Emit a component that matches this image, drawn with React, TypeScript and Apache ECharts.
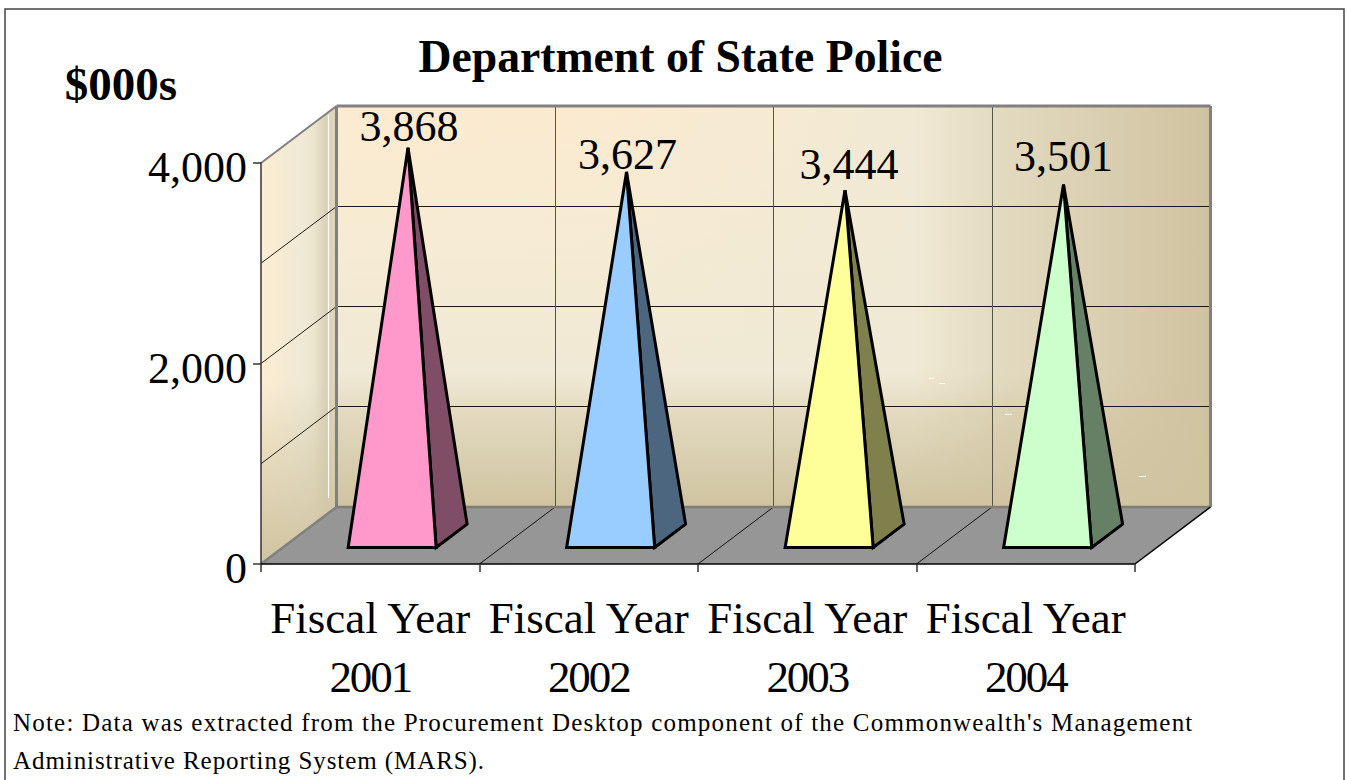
import React, { useEffect, useRef } from "react";
import * as echarts from "echarts";

const chartTitle = "Department of State Police";
const unitLabel = "$000s";
const noteLines = [
  "Note: Data was extracted from the Procurement Desktop component of the Commonwealth's Management",
  "Administrative Reporting System (MARS).",
];
const fiscalYears = ["Fiscal Year\n2001", "Fiscal Year\n2002", "Fiscal Year\n2003", "Fiscal Year\n2004"];
const spending = [3868, 3627, 3444, 3501];
const wallGridValues = [1000, 2000, 3000];
const frontColors = ["#FF99CC", "#99CCFF", "#FFFF99", "#CCFFCC"];
const sideColors = ["#804D66", "#4D6680", "#80804D", "#668066"];
// Placement of each value label's centre relative to its pyramid's apex, in pixels.
const labelOffsetX = [1, 1, 4, 0];
const labelOffsetY = [-21, -17, -26, -28];

const SERIF = '"Liberation Serif", "Times New Roman", serif';
const DEPTH_X = 75.5;
const DEPTH_Y = -57;
const HALF_BASE = 44;
const BASE_NEAR = 0.29;
const BASE_FAR = 0.7;
const TAN = "207,195,160";

const hGradient = (stops: [number, string][]) =>
  new echarts.graphic.LinearGradient(0, 0, 1, 0, stops.map(([offset, color]) => ({ offset, color })));
const vGradient = (stops: [number, string][]) =>
  new echarts.graphic.LinearGradient(0, 0, 0, 1, stops.map(([offset, color]) => ({ offset, color })));

const poly = (points: number[][], style: any) => ({ type: "polygon", shape: { points }, style, silent: true });
const seg = (x1: number, y1: number, x2: number, y2: number, stroke: string, lineWidth = 1) => ({
  type: "line",
  shape: { x1, y1, x2, y2 },
  style: { stroke, lineWidth, fill: null },
  silent: true,
});
const snap = (v: number) => Math.floor(v) + 0.5;

// Back wall, side wall, floor and their grid lines, all derived from the axes.
function renderFrame(params: any, api: any) {
  const cs = params.coordSys;
  const left = cs.x;
  const right = cs.x + cs.width;
  const band = api.size([1, 0])[0];
  const y0 = api.coord([0, 0])[1];
  const yMax = api.coord([0, 4000])[1];
  const dx = DEPTH_X;
  const dy = DEPTH_Y;

  const backWall = [[left + dx, yMax + dy], [right + dx, yMax + dy], [right + dx, y0 + dy], [left + dx, y0 + dy]];
  const sideWall = [[left, yMax], [left + dx, yMax + dy], [left + dx, y0 + dy], [left, y0]];
  const floor = [[left, y0], [right, y0], [right + dx, y0 + dy], [left + dx, y0 + dy]];
  const children: any[] = [];

  children.push(
    poly(backWall, {
      fill: vGradient([
        [0, "#FCEBD0"],
        [0.35, "#F6EBD3"],
        [0.66, "#F0E9D5"],
        [1, "#F0E9D5"],
      ]),
    }),
    poly(backWall, {
      fill: hGradient([
        [0, "rgba(240,233,213,0)"],
        [0.3, "rgba(240,233,213,0.1)"],
        [0.5, "rgba(240,233,213,0.5)"],
        [0.66, "rgba(240,233,213,0.95)"],
        [0.75, "rgba(227,219,193,1)"],
        [0.9, "rgba(216,204,174,1)"],
        [1, "rgba(207,194,159,1)"],
      ]),
    }),
    poly(backWall, {
      fill: vGradient([
        [0, `rgba(${TAN},0)`],
        [0.66, `rgba(${TAN},0)`],
        [0.7, `rgba(${TAN},0.12)`],
        [0.77, `rgba(${TAN},0.42)`],
        [1, `rgba(${TAN},1)`],
      ]),
    }),
    poly(sideWall, {
      fill: hGradient([
        [0, "#FBEDD2"],
        [0.25, "#F6EBD3"],
        [0.55, "#EFE9D6"],
        [0.7, "#EBE5D0"],
        [0.86, "#DAD1B6"],
        [0.89, "#DED5BB"],
        [1, "#DED4B8"],
      ]),
    }),
    poly(sideWall, {
      fill: vGradient([
        [0, `rgba(${TAN},0)`],
        [0.6, `rgba(${TAN},0)`],
        [0.75, `rgba(${TAN},0.4)`],
        [1, `rgba(${TAN},1)`],
      ]),
    }),
    poly(floor, { fill: "#969696" })
  );

  // Highlight running down the side wall.
  children.push(seg(snap(left + dx - 8), yMax + dy + 9, snap(left + dx - 8), y0 + dy - 9, "#FFFFFF", 1));

  wallGridValues.forEach((v) => {
    const y = api.coord([0, v])[1];
    const yBack = snap(y + dy);
    children.push(seg(left, y, left + dx, yBack, "#1E1E14", 1));
    children.push(seg(left + dx, yBack, right + dx, yBack, "#1A1A12", 1));
  });

  for (let i = 1; i < fiscalYears.length; i++) {
    const x = left + band * i;
    children.push(seg(snap(x + dx), yMax + dy, snap(x + dx), y0 + dy, "#55534A", 1));
    children.push(seg(x, y0, x + dx, y0 + dy, "#111111", 1));
  }

  children.push(
    seg(left + dx, yMax + dy, left + dx, y0 + dy, "#808080", 3),
    seg(left + dx, y0 + dy, right + dx, y0 + dy, "#7F7D75", 2.5),
    seg(left, yMax, left + dx, yMax + dy, "#808080", 2),
    seg(left + dx, yMax + dy, right + dx, yMax + dy, "#808080", 3),
    seg(right + dx, yMax + dy, right + dx, y0 + dy, "#808080", 3),
    seg(left, y0, left + dx, y0 + dy, "#808080", 2.5),
    seg(right, y0, right + dx, y0 + dy, "#000000", 1.5)
  );

  return { type: "group", children };
}

// One four-sided pyramid with its value written above the apex.
function renderPyramid(params: any, api: any) {
  const i = api.value(0);
  const value = api.value(1);
  const [cx, y0] = api.coord([i, 0]);
  const top = api.coord([i, value]);
  const apex = [top[0] + DEPTH_X / 2, top[1] + DEPTH_Y / 2];
  const nearL = [cx - HALF_BASE + DEPTH_X * BASE_NEAR, y0 + DEPTH_Y * BASE_NEAR];
  const nearR = [cx + HALF_BASE + DEPTH_X * BASE_NEAR, y0 + DEPTH_Y * BASE_NEAR];
  const farR = [cx + HALF_BASE + DEPTH_X * BASE_FAR, y0 + DEPTH_Y * BASE_FAR];
  const edge = { stroke: "#000000", lineWidth: 3, lineJoin: "miter" };
  return {
    type: "group",
    children: [
      poly([nearR, farR, apex], { ...edge, fill: sideColors[i] }),
      poly([nearL, nearR, apex], { ...edge, fill: frontColors[i] }),
      {
        type: "text",
        silent: true,
        style: {
          text: spending[i].toLocaleString("en-US"),
          x: apex[0] + labelOffsetX[i],
          y: apex[1] + labelOffsetY[i],
          fill: "#000000",
          fontFamily: SERIF,
          fontSize: 44,
          align: "center",
          verticalAlign: "middle",
        },
      },
    ],
  };
}

// Tracking applied to individual text runs once the chart has drawn them.
function applyTracking(root: HTMLElement) {
  root.querySelectorAll("svg text").forEach((node) => {
    const text = node.textContent || "";
    let spacing = "";
    if (/^\d{4}$/.test(text)) spacing = "-2.1px";
    else if (text === noteLines[0]) spacing = "1.2px";
    else if (text === noteLines[1]) spacing = "0.92px";
    if (spacing) (node as SVGTextElement).style.letterSpacing = spacing;
  });
}

export default function App() {
  const ref = useRef<HTMLDivElement>(null);

  useEffect(() => {
    const chart = echarts.init(ref.current!, undefined, { renderer: "svg" });
    const dashes = [
      [929, 378, 934],
      [939, 383, 945],
      [1005, 414, 1012],
      [1139, 476, 1146],
    ];
    chart.setOption({
      animation: false,
      backgroundColor: "#FFFFFF",
      title: {
        text: chartTitle,
        left: 675.5,
        top: 28,
        textAlign: "center",
        textStyle: { fontFamily: SERIF, fontSize: 45.7, fontWeight: "bold", color: "#000000" },
      },
      grid: { left: 261, top: 163, width: 874, height: 401, containLabel: false },
      xAxis: {
        type: "category",
        data: fiscalYears,
        z: 5,
        axisLine: { lineStyle: { color: "#000000", width: 1.5 } },
        axisTick: { show: true, length: 8, alignWithLabel: false, lineStyle: { color: "#333333", width: 1.5 } },
        axisLabel: {
          interval: 0,
          margin: 24,
          fontFamily: SERIF,
          fontSize: 45,
          lineHeight: 59,
          color: "#000000",
        },
      },
      yAxis: {
        type: "value",
        min: 0,
        max: 4000,
        interval: 2000,
        z: 5,
        splitLine: { show: false },
        axisLine: { show: true, lineStyle: { color: "#333333", width: 1.5 } },
        axisTick: { show: true, length: 8, lineStyle: { color: "#333333", width: 1.5 } },
        axisLabel: {
          margin: 14,
          // A short top-aligned line box sits the figures slightly below their ticks.
          verticalAlign: "top",
          lineHeight: 9,
          fontFamily: SERIF,
          fontSize: 44,
          color: "#000000",
          formatter: (v: number) => v.toLocaleString("en-US"),
        },
      },
      series: [
        { type: "custom", z: 1, silent: true, data: [[0]], renderItem: renderFrame },
        {
          type: "custom",
          z: 3,
          silent: true,
          data: spending.map((v, i) => [i, v]),
          encode: { x: 0, y: 1 },
          renderItem: renderPyramid,
        },
      ],
      graphic: [
        {
          type: "polyline",
          z: 10,
          silent: true,
          shape: { points: [[5, 780], [5, 9], [1344, 9], [1344, 780]] },
          style: { stroke: "#444444", lineWidth: 1.5, fill: null },
        },
        {
          type: "text",
          silent: true,
          x: 121,
          y: 84,
          style: {
            text: unitLabel,
            fontFamily: SERIF,
            fontSize: 47,
            fontWeight: "bold",
            fill: "#000000",
            align: "center",
            verticalAlign: "middle",
          },
        },
        ...noteLines.map((line, i) => ({
          type: "text",
          silent: true,
          x: 13,
          y: 722 + i * 38,
          style: {
            text: line,
            fontFamily: SERIF,
            fontSize: 25,
            fill: "#000000",
            align: "left",
            verticalAlign: "middle",
          },
        })),
        ...dashes.map(([x1, y, x2]) => ({
          type: "line",
          z: 10,
          silent: true,
          shape: { x1, y1: y + 0.5, x2, y2: y + 0.5 },
          style: { stroke: "#FFFFFF", lineWidth: 1 },
        })),
      ],
    });
    applyTracking(ref.current!);
    return () => chart.dispose();
  }, []);

  return <div ref={ref} style={{ position: "absolute", left: 0, top: 0, width: 1347, height: 780 }} />;
}
